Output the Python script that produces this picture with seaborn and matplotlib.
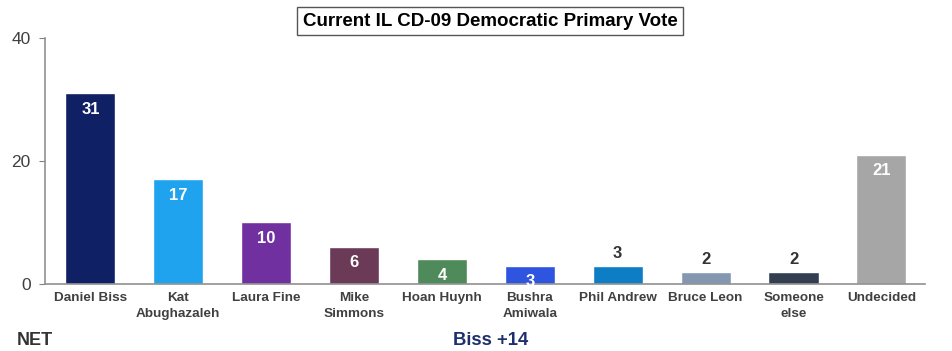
import matplotlib
matplotlib.use("Agg")
import matplotlib.pyplot as plt
import pandas as pd
import seaborn as sns

candidates = ["Daniel Biss", "Kat\nAbughazaleh", "Laura Fine", "Mike\nSimmons", "Hoan Huynh",
              "Bushra\nAmiwala", "Phil Andrew", "Bruce Leon", "Someone\nelse", "Undecided"]
votes = [31, 17, 10, 6, 4, 3, 3, 2, 2, 21]
colors = ["#0F2064", "#1FA3EE", "#7030A0", "#6B3A56", "#4E8A5A",
          "#2F55E0", "#0D7DC5", "#8497B0", "#333F50", "#A6A6A6"]
label_outside = [False, False, False, False, False, False, True, True, True, False]

sns.set_style("white")
plt.rcParams['font.family'] = ['Liberation Sans', 'DejaVu Sans']

df = pd.DataFrame({"candidate": candidates, "vote": votes})

fig = plt.figure(figsize=(9.52, 3.51), dpi=100)
ax = fig.add_axes([0.047, 0.191, 0.925, 0.7007])
sns.barplot(data=df, x="candidate", y="vote", hue="candidate", palette=colors,
            legend=False, width=0.57, saturation=1, ax=ax)

for p, v, out in zip(ax.patches, votes, label_outside):
    xc = p.get_x() + p.get_width() / 2
    if out:
        ax.annotate(str(v), (xc, v), xytext=(0, 3), textcoords="offset points",
                    ha="center", va="bottom", fontsize=12, fontweight="bold", color="#333333")
    else:
        ax.annotate(str(v), (xc, v), xytext=(0, -6), textcoords="offset points",
                    ha="center", va="top", fontsize=12, fontweight="bold", color="white")

ax.set_ylim(0, 40)
ax.set_xlim(-0.52, 9.5)
ax.set_yticks([0, 20, 40])
ax.set_xlabel("")
ax.set_ylabel("")
ax.tick_params(axis="y", labelsize=12.5, labelcolor="#404040", length=4, color="#808080",
               direction="out", left=True, pad=6)
ax.tick_params(axis="x", labelsize=9.7, labelcolor="#404040", length=0, pad=6)
plt.setp(ax.get_xticklabels(), fontweight="bold", linespacing=1.4)
for s in ["top", "right"]:
    ax.spines[s].set_visible(False)
for s in ["left", "bottom"]:
    ax.spines[s].set_color("#909090")
    ax.spines[s].set_linewidth(1.2)

fig.text(0.515, 0.94, "Current IL CD-09 Democratic Primary Vote", ha="center", va="center",
         fontsize=13.5, fontweight="bold", color="black",
         bbox=dict(boxstyle="square,pad=0.3", facecolor="white", edgecolor="#555555", linewidth=1))
fig.text(0.018, 0.03, "NET", ha="left", va="center", fontsize=13, fontweight="bold", color="#333333")
fig.text(0.515, 0.03, "Biss +14", ha="center", va="center", fontsize=13.3, fontweight="bold", color="#1F2F6E")

fig.savefig("out.png", dpi=100)
